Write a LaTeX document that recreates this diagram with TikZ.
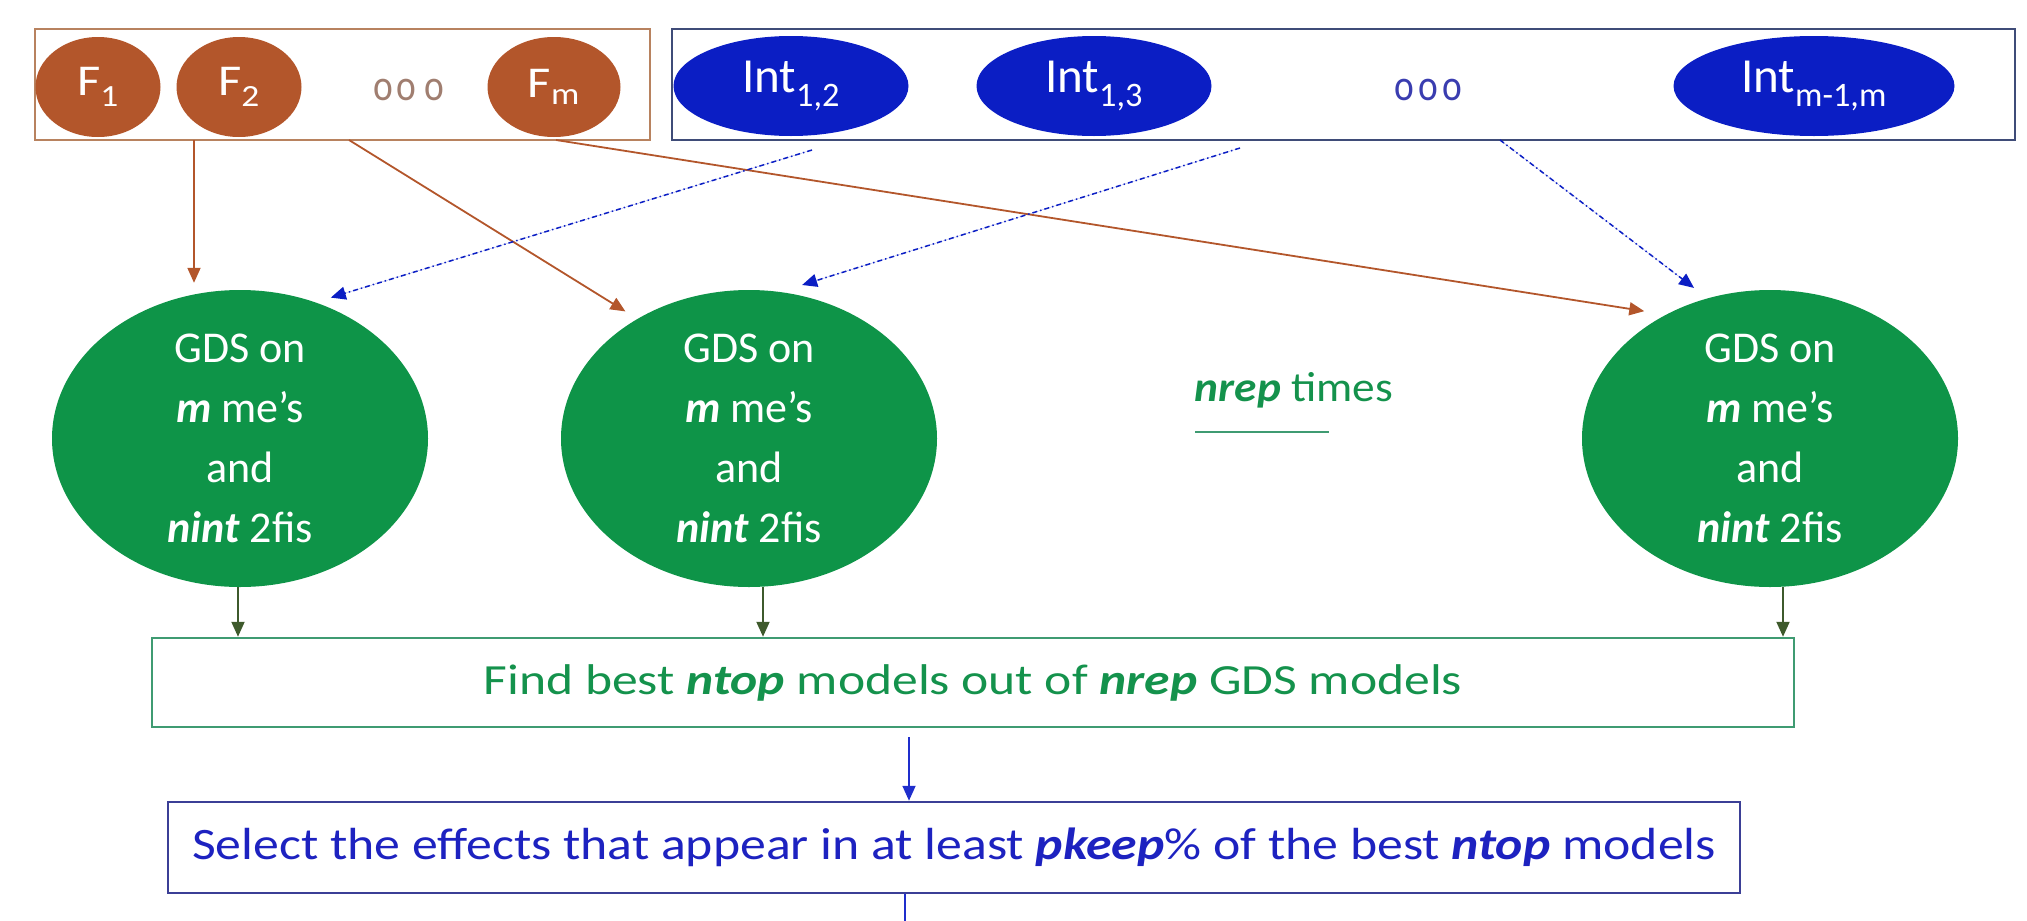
\documentclass[tikz,border=0pt]{standalone}
\usepackage{fontspec}
\setmainfont{Carlito}
\usetikzlibrary{arrows.meta,shapes.geometric}

\definecolor{rust}{HTML}{B3562B}
\definecolor{rustline}{HTML}{B8825F}
\definecolor{rustdots}{HTML}{A07E70}
\definecolor{intblue}{HTML}{0B1EC4}
\definecolor{intline}{HTML}{3F4C78}
\definecolor{intdots}{HTML}{3A3DB0}
\definecolor{gdsgreen}{HTML}{0E9448}
\definecolor{findline}{HTML}{3F9B72}
\definecolor{findtext}{HTML}{14924C}
\definecolor{seltext}{HTML}{1D22C0}
\definecolor{selline}{HTML}{3B3F96}
\definecolor{downcol}{HTML}{3E5A2C}
\definecolor{arrblue}{HTML}{1F2ECC}

\newcommand{\bfit}[1]{\textbf{\textit{#1}}}
\newcommand{\wide}[2]{\scalebox{#1}[1]{#2}}

\begin{document}
\begin{tikzpicture}[x=1pt,y=-1pt,>={Triangle[length=15pt,width=13pt]},
    factor/.style={ellipse,fill=rust,text=white,minimum width=125pt,minimum height=100pt,inner sep=0pt,font=\fontsize{44}{48}\selectfont},
    inter/.style={ellipse,fill=intblue,text=white,minimum height=100pt,inner sep=0pt,font=\fontsize{49}{52}\selectfont},
    gds/.style={ellipse,fill=gdsgreen,text=white,minimum width=376pt,minimum height=297pt,inner sep=0pt,align=center,font=\fontsize{44}{60}\selectfont},
    dots/.style={font=\fontsize{44}{46}\selectfont},
    fline/.style={->,draw=rust,fill=rust,line width=1.8pt},
    iline/.style={->,draw=intblue,fill=intblue,line width=1.5pt,dash pattern=on 5pt off 3pt on 1.5pt off 3pt},
    down/.style={->,draw=downcol,fill=downcol,line width=2pt},
    stepbox/.style={draw,line width=2.5pt,inner sep=0pt}
  ]
  \useasboundingbox (0,0) rectangle (2027,921);

  % main effects
  \node[stepbox,draw=rustline,minimum width=615pt,minimum height=111pt] (fbox) at (342.5,84.5) {};
  \node[factor] (F1) at (98,87) {\wide{1.15}{F\textsubscript{1}}};
  \node[factor] (F2) at (239,87) {\wide{1.15}{F\textsubscript{2}}};
  \node[dots,text=rustdots] (fdots) at (409,90) {\wide{0.85}{o\hspace{3pt}o\hspace{10pt}o}};
  \node[factor,minimum width=133pt] (Fm) at (554,87) {\wide{1.15}{F\textsubscript{m}}};

  % two-factor interactions
  \node[stepbox,draw=intline,minimum width=1343pt,minimum height=111pt] (ibox) at (1343.5,84.5) {};
  \node[inter,minimum width=235pt] (I12) at (791,86) {Int\textsubscript{1,2}};
  \node[inter,minimum width=235pt] (I13) at (1094,86) {Int\textsubscript{1,3}};
  \node[dots,text=intdots] (idots) at (1428,90) {\wide{0.85}{o\hspace{5pt}o\hspace{5pt}o}};
  \node[inter,minimum width=281pt] (Imm) at (1814,86) {Int\textsubscript{m-1,m}};

  % GDS runs
  \node[gds] (g1) at (240,438.5) {GDS on\\\bfit{m} me’s\\and\\\bfit{nint} 2fis};
  \node[gds] (g2) at (749,438.5) {GDS on\\\bfit{m} me’s\\and\\\bfit{nint} 2fis};
  \node[gds] (g3) at (1770,438.5) {GDS on\\\bfit{m} me’s\\and\\\bfit{nint} 2fis};
  \node[text=findtext,font=\fontsize{42}{48}\selectfont] (nrep) at (1294,390) {\wide{1.08}{\bfit{nrep} times}};
  \draw[findline,line width=2pt] (1195,432) -- (1329,432);

  % selection steps
  \node[stepbox,draw=findline,minimum width=1642pt,minimum height=89pt,text=findtext,font=\fontsize{43}{48}\selectfont] (find) at (973,682.5)
    {\wide{1.2}{Find best \bfit{ntop} models out of \bfit{nrep} GDS models}};
  \node[stepbox,draw=selline,minimum width=1572pt,minimum height=91pt,text=seltext,font=\fontsize{45}{52}\selectfont] (sel) at (954,847.5)
    {\wide{1.15}{Select the effects that appear in at least \bfit{pkeep}\% of the best \bfit{ntop} models}};

  % free ends
  \coordinate (b1) at (194,140);
  \coordinate (b2) at (349,140);
  \coordinate (b3) at (556,140);
  \coordinate (i1) at (812,150);
  \coordinate (i2) at (1240,148);
  \coordinate (i3) at (1500,140);
  \coordinate (fs) at (909,737);
  \coordinate (out) at (905,921);

  \draw[fline,shorten >=7pt] (b1) -- (b1 |- g1.north);
  \draw[fline,shorten >=14pt] (b2) -- (g2.133);
  \draw[fline,shorten >=22pt] (b3) -- (g3.130);

  \draw[iline,shorten >=16pt] (i1) -- (g1.61);
  \draw[iline,shorten >=23pt] (i2) -- (g2.78);
  \draw[iline,shorten >=17pt] (i3) -- (g3.114);

  \draw[down] ([xshift=-2pt]g1.south) -- ([xshift=-2pt]g1.south |- find.north);
  \draw[down] ([xshift=14pt]g2.south) -- ([xshift=14pt]g2.south |- find.north);
  \draw[down] ([xshift=13pt]g3.south) -- ([xshift=13pt]g3.south |- find.north);

  \draw[->,draw=arrblue,fill=arrblue,line width=1.8pt] (fs) -- (fs |- sel.north);
  \draw[draw=arrblue,line width=1.8pt] ([xshift=-49pt]sel.south) -- (out);
\end{tikzpicture}
\end{document}
